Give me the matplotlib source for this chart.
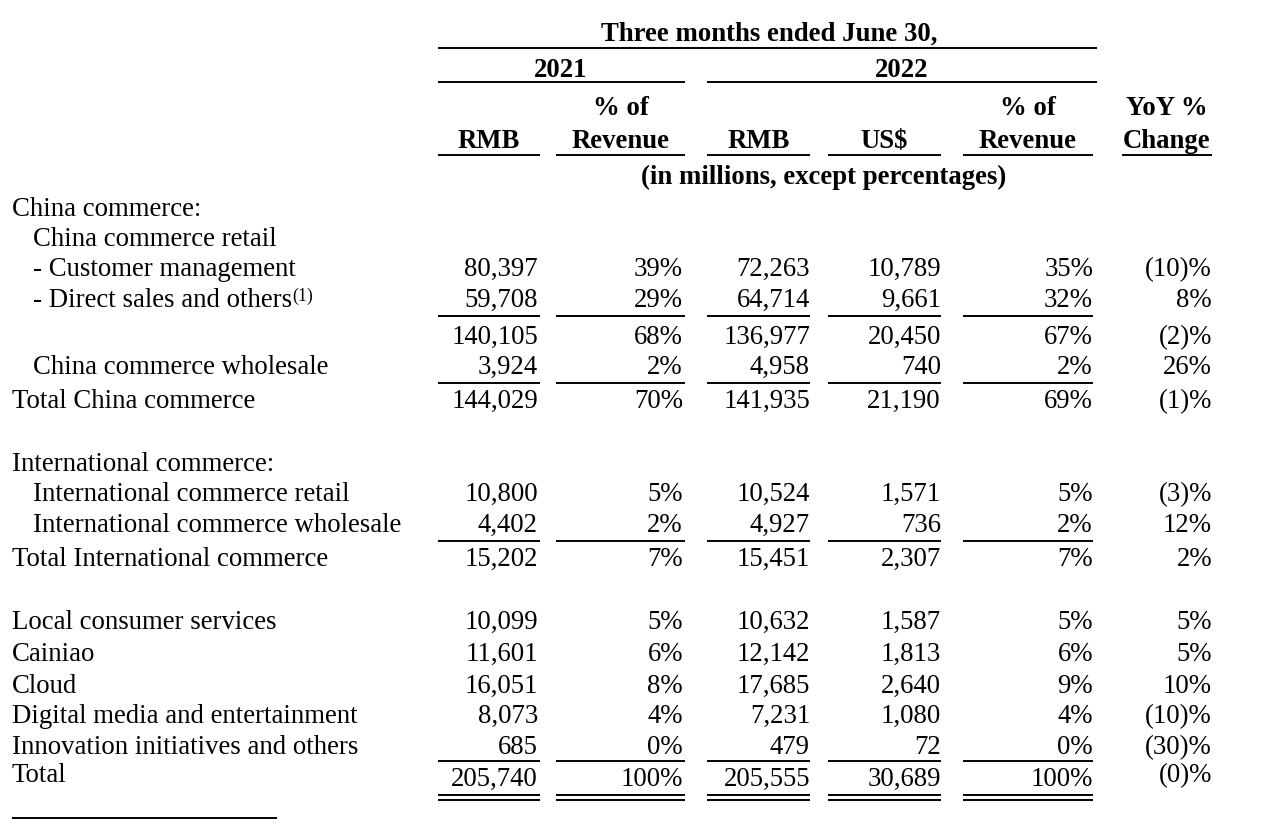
import math
import matplotlib
matplotlib.use('Agg')
import matplotlib.pyplot as plt
from matplotlib.font_manager import FontProperties
from matplotlib.backends.backend_agg import get_hinting_flag

# ---- table data ----
labels = ['China commerce:', 'China commerce retail', '- Customer management',
          '- Direct sales and others', '', 'China commerce wholesale',
          'Total China commerce',
          'International commerce:', 'International commerce retail',
          'International commerce wholesale', 'Total International commerce',
          'Local consumer services', 'Cainiao', 'Cloud',
          'Digital media and entertainment', 'Innovation initiatives and others',
          'Total']
indent = [0, 1, 1, 1, 1, 1, 0, 0, 1, 1, 0, 0, 0, 0, 0, 0, 0]
rmb_2021 = ['', '', '80,397', '59,708', '140,105', '3,924', '144,029',
            '', '10,800', '4,402', '15,202',
            '10,099', '11,601', '16,051', '8,073', '685', '205,740']
pct_2021 = ['', '', '39%', '29%', '68%', '2%', '70%',
            '', '5%', '2%', '7%',
            '5%', '6%', '8%', '4%', '0%', '100%']
rmb_2022 = ['', '', '72,263', '64,714', '136,977', '4,958', '141,935',
            '', '10,524', '4,927', '15,451',
            '10,632', '12,142', '17,685', '7,231', '479', '205,555']
usd_2022 = ['', '', '10,789', '9,661', '20,450', '740', '21,190',
            '', '1,571', '736', '2,307',
            '1,587', '1,813', '2,640', '1,080', '72', '30,689']
pct_2022 = ['', '', '35%', '32%', '67%', '2%', '69%',
            '', '5%', '2%', '7%',
            '5%', '6%', '9%', '4%', '0%', '100%']
yoy = ['', '', '(10)%', '8%', '(2)%', '26%', '(1)%',
       '', '(3)%', '12%', '2%',
       '5%', '5%', '10%', '(10)%', '(30)%', '(0)%']
footnote_rows = {3: '(1)'}
rule_after = [3, 5, 9, 15]   # single rule under these rows

# ---- layout (pixels) ----
W, H = 1280, 823
row_base = [216, 246, 276, 307, 344, 374, 408, 471, 501, 532, 566,
            629, 661, 693, 723, 754, 786]
label_shift = {16: -4}   # "Total" label and YoY sit a bit higher
rule_y = {3: 316, 5: 383, 9: 541, 15: 761}
col_right = [538, 683, 810, 941, 1093, 1212]
col_span = [(438, 540), (556, 685), (707, 810), (828, 941), (963, 1093), (1122, 1212)]
fs = 19.3
hfs = 19.3
serif = ['Liberation Serif']

fig = plt.figure(figsize=(W / 100, H / 100), dpi=100)
ax = fig.add_axes([0, 0, 1, 1])
ax.set_xlim(0, W)
ax.set_ylim(H, 0)
ax.axis('off')
renderer = fig.canvas.get_renderer()


def snap(s, y, size, weight):
    # shift so every string lands on the same pixel baseline in Agg
    fp = FontProperties(family=serif, size=size, weight=weight)
    font = renderer._prepare_font(fp)
    font.set_text(s, 0, flags=get_hinting_flag())
    d = font.get_descent() / 64
    h = font.get_width_height()[1] / 64
    a = h - d
    return y + math.floor(h) - math.floor(a) - d


def txt(x, y, s, ha='left', size=fs, weight='normal'):
    if not s:
        return None
    return ax.text(x, snap(s, y, size, weight), s, ha=ha, va='baseline',
                   fontsize=size, fontweight=weight, family=serif)


def hline(x0, x1, y, lw=1.4):
    ax.plot([x0, x1], [y, y], color='black', lw=lw, solid_capstyle='butt')


def bold(x, y, s):
    txt(x, y, s, ha='center', size=hfs, weight='bold')


# header
bold(769, 41, 'Three months ended June 30,')
hline(438, 1097, 48)
bold(561, 77, '2021')
bold(902, 77, '2022')
hline(438, 685, 82)
hline(707, 1097, 82)
col_head_top = ['', '% of', '', '', '% of', 'YoY %']
col_head_bot = ['RMB', 'Revenue', 'RMB', 'US$', 'Revenue', 'Change']
for (x0, x1), t, b in zip(col_span, col_head_top, col_head_bot):
    cx = (x0 + x1) / 2
    bold(cx, 115, t)
    bold(cx, 148, b)
    hline(x0, x1, 155)
bold(824, 184, '(in millions, except percentages)')

# body
columns = [rmb_2021, pct_2021, rmb_2022, usd_2022, pct_2022, yoy]
for i, lab in enumerate(labels):
    y = row_base[i]
    ys = y + label_shift.get(i, 0)
    t = txt(12 + 21 * indent[i], ys, lab)
    if i in footnote_rows:
        ax.annotate(footnote_rows[i], xy=(1, 1), xycoords=t, xytext=(0, 0),
                    textcoords='offset points', ha='left', va='top',
                    fontsize=fs * 0.66, family=serif)
    for c, col in enumerate(columns):
        txt(col_right[c], ys if c == 5 else y, col[i], ha='right')

for r in rule_after:
    for x0, x1 in col_span[:5]:
        hline(x0, x1, rule_y[r])
for x0, x1 in col_span[:5]:
    hline(x0, x1, 795)
    hline(x0, x1, 800)

# footnote separator
hline(12, 277, 818)

fig.savefig('out.png', dpi=100)
